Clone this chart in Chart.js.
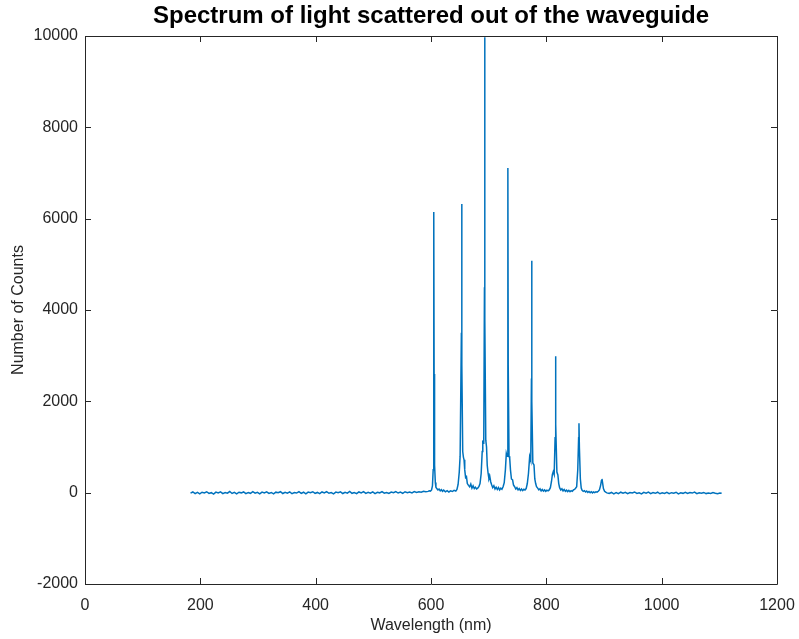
<!DOCTYPE html>
<html>
<head>
<meta charset="utf-8">
<script src="https://cdn.jsdelivr.net/npm/chart.js@4"></script>
<style>
  html, body { margin: 0; padding: 0; background: #fff; }
  #wrap { width: 799px; height: 639px; }
</style>
</head>
<body>
<div id="wrap"><canvas id="spectrum" width="799" height="639"></canvas></div>
<script>
// Spectrum of light scattered out of the waveguide

var titleText = 'Spectrum of light scattered out of the waveguide';
var xTicks = [0, 200, 400, 600, 800, 1000, 1200];
var yTicks = [-2000, 0, 2000, 4000, 6000, 8000, 10000];

// left baseline
var wlLeft = [183, 187, 191, 195, 199, 203, 207, 211, 215, 219, 223, 227, 231, 235, 239, 243, 247, 251, 255, 259,
  263, 267, 271, 275, 279, 283, 287, 291, 295, 299, 303, 307, 311, 315, 319, 323, 327, 331, 335, 339,
  343, 347, 351, 355, 359, 363, 367, 371, 375, 379, 383, 387, 391, 395, 399, 403, 407, 411, 415, 419,
  423, 427, 431, 435, 439, 443, 447, 451, 455, 459, 463, 467, 471, 475, 479, 483, 487, 491, 495, 499,
  503, 507, 511, 515, 519, 523, 527, 531, 535, 539, 543, 547, 551, 555, 559, 563, 567, 571, 575, 579,
  583, 587, 591, 595, 597];
var cntLeft = [-10, 15, -20, 5, -25, 10, -5, 20, -15, 0, -30, 12, -8, 18, -22, 3, -12, 25, -18, 6,
  -26, 9, -4, 16, -20, 2, -14, 22, -10, 8, -24, 14, -6, 19, -16, 4, -28, 11, -2, 21,
  -19, 7, -11, 17, -23, 1, -9, 24, -15, 10, -27, 13, -3, 20, -17, 5, -21, 15, -7, 23,
  -13, 3, -25, 12, -1, 18, -19, 8, -10, 26, -14, 2, -22, 16, -5, 21, -16, 6, -12, 19,
  -20, 9, -4, 25, -11, 4, -18, 14, -2, 22, -8, 12, -15, 20, 0, 15, -6, 24, 5, 18,
  8, 30, 20, 28, 40];

// peak region
var wlPeaks = [599, 601, 602.5, 603.8, 604.6, 605.0, 605.4, 606.2, 607.5, 608.5, 610, 612, 614, 616, 618, 620, 622, 625, 628, 631,
  634, 637, 640, 643, 645, 647, 649, 650.5, 652.7, 653.2, 653.7, 655.0, 656.2, 657.3, 658.5, 660, 661.5, 663, 665, 667,
  669, 671, 673, 675, 677, 679, 681, 683, 685, 687, 688.8, 689.8, 691.5, 692.7, 693.1, 693.5, 695.0, 696.3, 697.5, 699,
  700.5, 702, 703.5, 705, 707, 709, 711, 713, 715, 717, 719, 721, 723, 725, 727, 729, 730.6, 731.9, 733.1, 733.5,
  733.9, 735.3, 736.5, 737.8, 739.5, 741.5, 743, 745, 747, 749, 751, 753, 755, 757, 759, 761, 763, 765, 767, 769,
  771.1, 773.0, 774.2, 774.6, 775.0, 776.6, 778.6, 780, 781.5, 783, 785, 787, 789, 791, 793, 795, 797, 799, 801, 803,
  805, 807, 809, 810.5, 812, 813.6, 815.2, 815.8, 816.2, 816.7, 818.3, 820, 821.5, 823, 825, 827, 829, 831, 833, 835,
  837, 839, 841, 843, 845, 847, 849, 851, 852.6, 854.5, 856.0, 856.6, 857.3, 859, 860.5, 862, 864, 866, 868, 870,
  872, 874, 876, 878, 880, 882, 884, 886, 888, 890, 892, 894, 895.5, 896.5, 897.5, 899, 901, 903, 905];
var cntPeaks = [35, 60, 150, 500, 2500, 6146, 2600, 600, 220, 120, 90, 60, 80, 40, 65, 30, 55, 20, 45, 15,
  40, 25, 50, 35, 70, 180, 450, 800, 3500, 6321, 2800, 900, 780, 720, 500, 330, 350, 200, 160, 130,
  190, 100, 150, 90, 120, 80, 100, 130, 200, 420, 900, 1117, 1100, 4500, 9971, 3800, 1150, 1000, 600, 425,
  300, 350, 240, 180, 110, 150, 80, 120, 70, 110, 60, 100, 75, 130, 220, 500, 860, 800, 3500, 7110,
  2800, 800, 750, 500, 300, 280, 170, 130, 80, 110, 60, 90, 50, 80, 45, 75, 60, 90, 200, 420,
  790, 700, 2500, 5080, 2000, 650, 607, 300, 200, 130, 100, 60, 85, 40, 70, 35, 60, 30, 55, 40,
  60, 110, 250, 400, 460, 400, 1200, 2300, 2987, 1500, 450, 388, 200, 110, 60, 85, 40, 70, 30, 55,
  25, 50, 20, 45, 30, 60, 70, 100, 130, 500, 1200, 1520, 1000, 300, 100, 50, 30, 45, 15, 35,
  5, 25, 0, 20, -5, 15, 0, 20, 10, 30, 60, 150, 260, 300, 220, 90, 30, 10, -5];

// right baseline
var wlRight = [909, 913, 917, 921, 925, 929, 933, 937, 941, 945, 949, 953, 957, 961, 965, 969, 973, 977, 981, 985,
  989, 993, 997, 1001, 1005, 1009, 1013, 1017, 1021, 1025, 1029, 1033, 1037, 1041, 1045, 1049, 1053, 1057, 1061, 1065,
  1069, 1073, 1077, 1081, 1085, 1089, 1093, 1097, 1101, 1104];
var cntRight = [-15, 5, -25, 0, -20, 10, -12, 8, -22, 3, -8, 15, -18, -2, -28, 6, -10, 12, -20, 2,
  -14, 10, -24, -3, -16, 8, -21, 0, -11, 9, -26, -4, -15, 7, -19, 1, -9, 11, -23, -2,
  -13, 5, -20, -6, -17, 4, -12, -25, -8, -14];

var wavelengths = wlLeft.concat(wlPeaks, wlRight);
var counts = cntLeft.concat(cntPeaks, cntRight);
var points = wavelengths.map(function (w, i) { return { x: w, y: counts[i] }; });

var axisColor = '#262626';
var fontFamily = "'Liberation Sans', Arial, Helvetica, sans-serif";

// box + inward ticks like the original figure, plus the title centred on the axes
var boxPlugin = {
    id: 'boxPlugin',
    afterDraw: function (chart) {
        var ctx = chart.ctx, a = chart.chartArea;
        var xs = chart.scales.x, ys = chart.scales.y;
        var len = 6;
        ctx.save();
        ctx.strokeStyle = axisColor;
        ctx.lineWidth = 1;
        ctx.beginPath();
        ctx.rect(Math.round(a.left) + 0.5, Math.round(a.top) + 0.5, Math.round(a.right - a.left), Math.round(a.bottom - a.top));
        xTicks.forEach(function (v) {
            var px = Math.round(xs.getPixelForValue(v)) + 0.5;
            ctx.moveTo(px, a.bottom); ctx.lineTo(px, a.bottom - len);
            ctx.moveTo(px, a.top); ctx.lineTo(px, a.top + len);
        });
        yTicks.forEach(function (v) {
            var py = Math.round(ys.getPixelForValue(v)) + 0.5;
            ctx.moveTo(a.left, py); ctx.lineTo(a.left + len, py);
            ctx.moveTo(a.right, py); ctx.lineTo(a.right - len, py);
        });
        ctx.stroke();
        ctx.fillStyle = '#000';
        ctx.font = 'bold 24px ' + fontFamily;
        ctx.textAlign = 'center';
        ctx.textBaseline = 'middle';
        ctx.fillText(titleText, (a.left + a.right) / 2, 16);
        ctx.restore();
    }
};

new Chart(document.getElementById('spectrum').getContext('2d'), {
    type: 'line',
    data: {
        datasets: [{
            label: 'Counts', data: points,
            borderColor: '#0072BD', borderWidth: 1.5,
            pointRadius: 0, tension: 0, fill: false
        }]
    },
    options: {
        responsive: false, animation: false,
        layout: { padding: { left: 0, right: 22, top: 36, bottom: 0 } },
        plugins: { legend: { display: false }, tooltip: { enabled: false } },
        scales: {
            x: {
                type: 'linear', min: 0, max: 1200,
                afterBuildTicks: function (s) { s.ticks = xTicks.map(function (v) { return { value: v }; }); },
                afterFit: function (s) { s.height = 55; s.paddingLeft = 0; s.paddingRight = 0; },
                grid: { display: false, drawTicks: false }, border: { display: false },
                ticks: {
                    color: axisColor, padding: 12, maxRotation: 0, font: { family: fontFamily, size: 16 },
                    callback: function (v) { return String(v); }
                },
                title: { display: true, text: 'Wavelength (nm)', color: axisColor, padding: { top: 0, bottom: 4 }, font: { family: fontFamily, size: 16 } }
            },
            y: {
                min: -2000, max: 10000,
                afterBuildTicks: function (s) { s.ticks = yTicks.map(function (v) { return { value: v }; }); },
                afterFit: function (s) { s.width = 85; s.paddingTop = 0; s.paddingBottom = 0; },
                grid: { display: false, drawTicks: false }, border: { display: false },
                ticks: {
                    color: axisColor, padding: 7, font: { family: fontFamily, size: 16 },
                    callback: function (v) { return String(v); }
                },
                title: { display: true, text: 'Number of Counts', color: axisColor, padding: { top: 9, bottom: 0 }, font: { family: fontFamily, size: 16 } }
            }
        }
    },
    plugins: [boxPlugin]
});
</script>
</body>
</html>
